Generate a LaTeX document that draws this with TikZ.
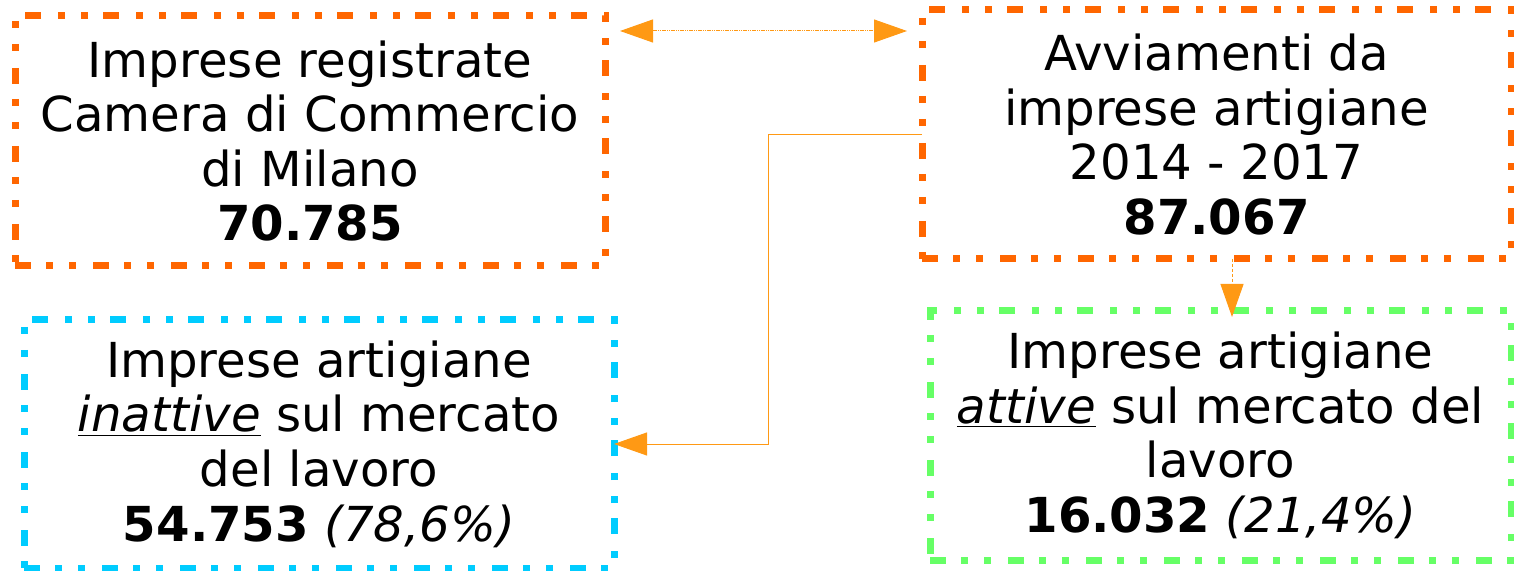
\documentclass[tikz,border=0pt]{standalone}
\usepackage{fontspec}
\setmainfont{DejaVu Sans}
\usetikzlibrary{arrows.meta}
\definecolor{boxorange}{HTML}{FF6600}
\definecolor{boxblue}{HTML}{00CCFF}
\definecolor{boxgreen}{HTML}{66FF66}
\definecolor{arrorange}{HTML}{FF9914}
\newcommand{\ulit}[1]{\underline{\textit{#1}}}
\tikzset{
  infobox/.style={draw, line width=3.5pt, rectangle, inner sep=0pt, outer sep=0pt,
    align=center, font=\fontsize{24.1pt}{27.3pt}\selectfont,
    dash pattern=on 8pt off 7.5pt on 3.5pt off 8pt on 3.5pt off 8.5pt},
  conn/.style={draw=arrorange, line width=0.5pt},
  tip/.style={-{Triangle[length=16.5pt,width=11.5pt,fill=arrorange]}},
}
\begin{document}
\begin{tikzpicture}[x=0.5pt,y=-0.5pt]
\useasboundingbox (0,0) rectangle (1514,571);
\node[infobox, draw=boxorange, minimum width=295pt, minimum height=125pt] (b1) at (310,141)
  {Imprese registrate\\Camera di Commercio\\di Milano\\\textbf{70.785}};
\node[infobox, draw=boxorange, minimum width=294.5pt, minimum height=124.5pt] (b2) at (1216.5,134.5)
  {Avviamenti da\\imprese artigiane\\2014 - 2017\\\textbf{87.067}};
\node[infobox, draw=boxblue, minimum width=295pt, minimum height=124pt] (b3) at (319,444)
  {Imprese artigiane\\\ulit{inattive} sul mercato\\del lavoro\\\textbf{54.753} \textit{(78,6\%)}};
\node[infobox, draw=boxgreen, minimum width=290.5pt, minimum height=124.5pt] (b4) at (1220.5,435.5)
  {Imprese artigiane\\\ulit{attive} sul mercato del\\lavoro\\\textbf{16.032} \textit{(21,4\%)}};
% top double arrow
\draw[conn, dash pattern=on 2pt off 0.5pt on 0.5pt off 0.5pt on 0.5pt off 0.5pt,
  {Triangle[length=16.5pt,width=11.5pt,fill=arrorange]}-{Triangle[length=16.5pt,width=11.5pt,fill=arrorange]},
  shorten <=7.5pt, shorten >=7.5pt]
  (b1.east |- 0,31) -- (b2.west |- 0,31);
% down arrow
\draw[conn, tip, dash pattern=on 1.5pt off 1pt, shorten >=-3pt]
  (b2.south -| 1232,0) -- (b4.north -| 1232,0);
% elbow arrow
\draw[conn, tip] (b2.west) -- (768,134.5) |- (b3.east);
\end{tikzpicture}
\end{document}
